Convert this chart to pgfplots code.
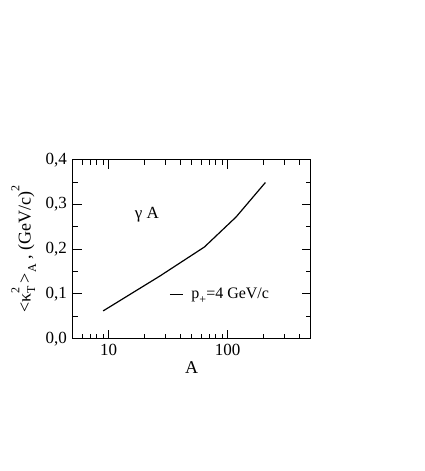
\documentclass[border=0pt]{standalone}
\usepackage{pgfplots}
\pgfplotsset{compat=1.18}
\usepackage{fontspec}
\setmainfont{Liberation Serif}

% superscript stacked over subscript, as in the original label
\newcommand\supsub[2]{\makebox[0pt][l]{\raisebox{0.62em}{\fontsize{12}{12}\selectfont #1}}\raisebox{-0.25em}{\fontsize{12}{12}\selectfont #2}}

\begin{document}
\begin{tikzpicture}
\fontsize{17}{20}\selectfont
\begin{axis}[
  at={(0,0)}, anchor=south west,
  scale only axis,
  width=238pt, height=179pt,
  xmode=log,
  xmin=5, xmax=500,
  ymin=0, ymax=0.4,
  xtick={10,100},
  xticklabels={10,100},
  minor xtick={5,6,7,8,9,20,30,40,50,60,70,80,90,200,300,400},
  ytick={0,0.1,0.2,0.3,0.4},
  minor ytick={0.05,0.15,0.25,0.35},
  yticklabel style={/pgf/number format/.cd,fixed,fixed zerofill,precision=1,use comma},
  /pgf/number format/assume math mode=true,
  tick align=inside,
  major tick length=9pt,
  minor tick length=5pt,
  tick style={black, line width=1pt},
  axis line style={line width=1.2pt},
  ticklabel style={font=\fontsize{17}{20}\selectfont},
  label style={font=\fontsize{18}{20}\selectfont},
  xlabel={A},
  ylabel={<κ\supsub{2}{T}\,>\raisebox{-0.3em}{\fontsize{12}{12}\selectfont A} , (GeV/c)\raisebox{0.62em}{\fontsize{12}{12}\selectfont 2}},
  xlabel style={yshift=6pt},
  ylabel style={yshift=-2pt},
  legend style={draw=none, fill=none, at={(rel axis cs:0.405,0.245)}, anchor=west,
    font=\fontsize{16}{18}\selectfont, inner sep=0pt},
  legend cell align=left,
  legend image code/.code={\draw[line width=1.2pt] (0pt,0pt) -- (13pt,0pt);},
]
  \addplot[black, line width=1.2pt] coordinates {
    (9,0.062) (27,0.14) (64,0.205) (118,0.272) (208,0.349)
  };
  \addlegendentry{\hspace{6pt}p\raisebox{-0.3em}{\fontsize{12}{12}\selectfont +}=4 GeV/c}
  \node[anchor=center, font=\fontsize{17}{20}\selectfont] at (axis cs:21,0.276) {γ A};
\end{axis}
\path[use as bounding box] (-72.7pt,-132.3pt) rectangle (352.3pt,338.7pt);
\end{tikzpicture}
\end{document}
